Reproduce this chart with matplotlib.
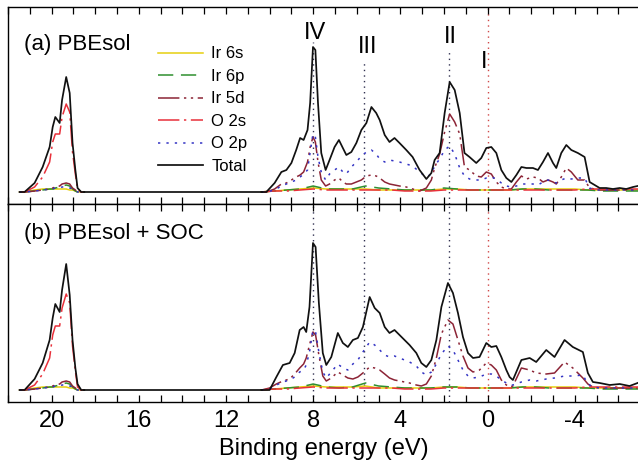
import matplotlib
matplotlib.use("Agg")
import matplotlib.pyplot as plt
import numpy as np

plt.rcParams['font.family'] = ['Liberation Sans', 'DejaVu Sans']

# --- O 2s band (around 19-21 eV), shared energy grid for both panels
e_low = [21.47, 21.24, 20.78, 20.41, 20.09, 19.95, 19.83, 19.63, 19.52, 19.33,
         19.17, 19.04, 18.91, 18.81, 18.64, 18.5]
tot_low_a = [0, 0, 9, 25, 45, 65, 75, 69, 92, 115, 99, 49, 22, 4, 0, 0]
o2s_low_a = [0, 0, 5, 15, 30, 50, 58, 58, 75, 88, 80, 40, 18, 3, 0, 0]
tot_low_b = [0, 0, 11, 27, 50, 72, 86, 78, 100, 126, 95, 50, 22, 6, 0, 0]
o2s_low_b = [0, 0, 5, 16, 32, 55, 64, 64, 82, 96, 87, 44, 19, 3, 0, 0]
ir5d_low = [0, 0, 1, 2, 3, 4, 5, 6, 8, 9, 8, 4, 2, 0, 0, 0]
ir6p_low = [0, 0, 1, 2, 3, 3, 4, 5, 6, 7, 6, 3, 1, 0, 0, 0]
ir6s_low = [0, 0, 2, 3, 3, 3, 3, 3, 3, 3, 2, 2, 1, 0, 0, 0]
o2p_low = [0, 0, 1, 2, 3, 3, 4, 4, 5, 5, 4, 3, 1, 0, 0, 0]

# --- valence / conduction region, panel (a) PBEsol
e_a = [10.37, 10.15, 9.77, 9.46, 9.23, 9.00, 8.78, 8.60, 8.44, 8.26,
       8.14, 8.01, 7.90, 7.78, 7.63, 7.43, 7.25, 7.02, 6.82, 6.64,
       6.48, 6.25, 6.02, 5.79, 5.56, 5.33, 5.11, 4.95, 4.72, 4.50,
       4.27, 4.04, 3.73, 3.44, 3.12, 2.81, 2.58, 2.43, 2.20, 1.97,
       1.74, 1.51, 1.28, 1.06, 0.83, 0.52, 0.29, 0.06, -0.17, -0.40,
       -0.63, -0.86, -1.09, -1.32, -1.55, -1.78, -2.08, -2.31, -2.54, -2.77,
       -3.00, -3.15, -3.38, -3.61, -3.84, -4.14, -4.45, -4.68, -4.91, -5.14,
       -5.44, -5.75, -6.06, -6.36, -6.67, -6.88]
tot_a = [0, 0, 9, 20, 22, 29, 42, 54, 52, 62,
         89, 145, 142, 89, 39, 22, 32, 45, 52, 44,
         37, 40, 49, 62, 69, 85, 79, 72, 57, 50,
         54, 49, 42, 35, 22, 13, 19, 32, 39, 79,
         110, 102, 79, 39, 35, 29, 34, 44, 45, 39,
         22, 14, 10, 17, 25, 24, 24, 22, 30, 39,
         29, 24, 39, 47, 42, 39, 35, 10, 7, 4,
         4, 3, 4, 3, 5, 6]
ir5d_a = [0, 0, 3, 8, 9, 12, 15, 17, 20, 30,
          45, 55, 50, 30, 12, 6, 8, 12, 14, 10,
          8, 8, 10, 12, 16, 17, 16, 14, 10, 8,
          7, 6, 5, 3, 1, 4, 12, 24, 38, 60,
          78, 70, 58, 25, 22, 16, 15, 20, 18, 10,
          5, 3, 3, 10, 16, 13, 15, 14, 10, 12,
          10, 8, 15, 24, 20, 12, 12, 4, 3, 2,
          2, 2, 2, 2, 2, 2]
o2p_a = [0, 0, 2, 6, 8, 10, 12, 15, 18, 22,
         40, 58, 55, 35, 20, 12, 18, 22, 25, 20,
         18, 25, 30, 36, 40, 42, 38, 33, 30, 32,
         31, 30, 28, 26, 20, 15, 18, 26, 33, 42,
         46, 38, 24, 16, 13, 12, 12, 14, 15, 13,
         9, 6, 5, 6, 8, 8, 8, 7, 10, 12,
         10, 9, 12, 14, 13, 14, 14, 4, 2, 2,
         2, 2, 2, 2, 2, 2]

# --- valence / conduction region, panel (b) PBEsol + SOC
e_b = [10.37, 10.00, 9.69, 9.39, 9.08, 8.85, 8.62, 8.44, 8.32, 8.17,
       8.01, 7.89, 7.74, 7.56, 7.40, 7.17, 6.87, 6.64, 6.41, 6.18,
       5.95, 5.72, 5.41, 5.18, 4.95, 4.72, 4.50, 4.27, 4.04, 3.81,
       3.58, 3.27, 3.04, 2.81, 2.58, 2.35, 2.12, 1.82, 1.59, 1.36,
       1.13, 0.90, 0.67, 0.37, 0.06, -0.17, -0.40, -0.63, -0.86, -1.01,
       -1.16, -1.55, -1.93, -2.23, -2.69, -3.07, -3.53, -3.91, -4.37, -4.60,
       -4.83, -5.14, -5.60, -6.06, -6.51, -6.88]
tot_b = [0, 0, 13, 25, 27, 37, 60, 63, 58, 83,
         147, 143, 87, 37, 25, 33, 57, 47, 43, 50,
         52, 63, 93, 82, 77, 63, 57, 60, 55, 50,
         45, 37, 27, 23, 30, 50, 83, 107, 97, 77,
         53, 37, 32, 33, 47, 43, 44, 33, 20, 13,
         10, 30, 32, 28, 40, 33, 50, 43, 38, 17,
         8, 7, 5, 6, 4, 7]
ir5d_b = [0, 2, 6, 9, 11, 16, 22, 26, 32, 45,
          58, 55, 35, 14, 9, 12, 18, 15, 12, 11,
          13, 17, 23, 22, 20, 16, 12, 10, 9, 8,
          7, 5, 4, 6, 14, 32, 56, 70, 66, 50,
          34, 22, 18, 20, 27, 25, 20, 10, 5, 3,
          4, 22, 20, 17, 16, 17, 28, 22, 12, 6,
          3, 2, 2, 2, 2, 2]
o2p_b = [0, 1, 5, 8, 10, 13, 18, 20, 25, 38,
         60, 58, 38, 18, 12, 18, 26, 22, 20, 26,
         30, 38, 48, 45, 40, 35, 33, 34, 32, 30,
         28, 24, 18, 15, 18, 26, 36, 44, 40, 30,
         20, 14, 12, 13, 16, 16, 14, 10, 7, 5,
         5, 8, 10, 9, 11, 12, 14, 14, 15, 6,
         3, 2, 2, 2, 2, 2]

# --- small Ir 6s / Ir 6p / O 2s contributions in the valence region
e_small = [10.4, 9.8, 9.2, 8.6, 8.0, 7.4, 6.8, 6.2, 5.6, 5.0,
           4.4, 3.8, 3.2, 2.6, 2.0, 1.4, 0.8, 0.2, -0.4, -1.0,
           -1.6, -2.2, -2.8, -3.4, -4.0, -4.6, -5.2, -5.8, -6.4, -7.0]
ir6s_a = [0, 1, 2, 3, 4, 3, 3, 3, 3, 2, 2, 2, 2, 2, 3, 3, 2, 2, 2, 2,
          3, 3, 3, 3, 3, 2, 2, 2, 2, 2]
ir6p_a = [0, 1, 2, 3, 6, 3, 3, 3, 6, 4, 3, 2, 2, 2, 4, 3, 2, 2, 2, 2,
          3, 3, 2, 2, 2, 2, 1, 1, 1, 1]
o2s_a = [0, 1, 1, 2, 3, 2, 2, 2, 2, 2, 2, 1, 1, 1, 2, 2, 2, 2, 2, 2,
         2, 2, 2, 2, 2, 3, 3, 3, 3, 3]
ir6s_b = [0, 1, 2, 3, 4, 3, 3, 3, 4, 2, 2, 2, 2, 2, 3, 3, 2, 2, 2, 2,
          3, 3, 3, 3, 3, 2, 2, 2, 2, 2]
ir6p_b = [0, 1, 2, 3, 6, 3, 2, 3, 7, 4, 3, 2, 2, 2, 3, 3, 2, 2, 2, 2,
          3, 3, 2, 2, 2, 2, 1, 1, 1, 1]
o2s_b = [0, 1, 1, 2, 3, 2, 2, 2, 2, 2, 2, 1, 1, 1, 2, 2, 2, 2, 2, 2,
         2, 2, 2, 2, 2, 3, 3, 3, 3, 3]

peak_labels = ['IV', 'III', 'II', 'I']
peak_pos = [8.0, 5.65, 1.75, 0.0]

# styles
st = {
    'Ir 6s': dict(color='#e6cf10', lw=1.1, ls='-'),
    'Ir 6p': dict(color='#2f8f2f', lw=1.1, dashes=(10, 5)),
    'Ir 5d': dict(color='#8c2436', lw=1.1, dashes=(14, 3, 1.5, 3, 1.5, 3)),
    'O 2s': dict(color='#e8303a', lw=1.1, dashes=(14, 3, 1.5, 3)),
    'O 2p': dict(color='#3434c4', lw=1.1, dashes=(1.5, 4)),
    'Total': dict(color='#111111', lw=1.25, ls='-'),
}

fig = plt.figure(figsize=(6.38, 4.71), dpi=100)
ax_a = fig.add_axes([8 / 638, 267 / 471, 632.2 / 638, 197 / 471])
ax_b = fig.add_axes([8 / 638, 69 / 471, 632.2 / 638, 198 / 471])


def draw_panel(ax, tot_lo, o2s_lo, e_v, tot_v, ir5d_v, o2p_v, ir6s_v, ir6p_v, o2s_v):
    # low band
    ax.plot(e_low, ir6s_low, **st['Ir 6s'])
    ax.plot(e_low, ir6p_low, **st['Ir 6p'])
    ax.plot(e_low, ir5d_low, **st['Ir 5d'])
    ax.plot(e_low, o2s_lo, **st['O 2s'])
    ax.plot(e_low, o2p_low, **st['O 2p'])
    ax.plot(e_low, tot_lo, **st['Total'], zorder=5)
    # valence
    ax.plot(e_small, ir6s_v, **st['Ir 6s'], label='Ir 6s')
    ax.plot(e_small, ir6p_v, **st['Ir 6p'], label='Ir 6p')
    ax.plot(e_v, ir5d_v, **st['Ir 5d'], label='Ir 5d')
    ax.plot(e_small, o2s_v, **st['O 2s'], label='O 2s')
    ax.plot(e_v, o2p_v, **st['O 2p'], label='O 2p')
    ax.plot(e_v, tot_v, **st['Total'], label='Total', zorder=5)
    # baseline joining the two bands
    ax.plot([18.5, 10.37], [0, 0], **st['Total'], zorder=5)

    ax.set_xlim(22.0, -7.0)
    ax.set_xticks([20, 16, 12, 8, 4, 0, -4])
    ax.set_xticks(np.arange(-7, 23, 1), minor=True)
    ax.set_yticks([])
    ax.tick_params(axis='x', which='both', direction='in', top=True, bottom=True,
                   width=0.9, labelsize=17, pad=6)
    ax.tick_params(axis='x', which='major', length=5)
    ax.tick_params(axis='x', which='minor', length=5)
    for s in ax.spines.values():
        s.set_linewidth(1.0)


draw_panel(ax_a, tot_low_a, o2s_low_a, e_a, tot_a, ir5d_a, o2p_a, ir6s_a, ir6p_a, o2s_a)
draw_panel(ax_b, tot_low_b, o2s_low_b, e_b, tot_b, ir5d_b, o2p_b, ir6s_b, ir6p_b, o2s_b)

ax_a.set_ylim(-12, 185)
ax_b.set_ylim(-12, 186)
ax_a.tick_params(axis='x', labelbottom=False)
ax_b.set_xticklabels(['20', '16', '12', '8', '4', '0', '-4'])
ax_b.set_xlabel('Binding energy (eV)', fontsize=17, labelpad=4)

# peak markers
tops_a = [150, 129, 142, 185]
for lab, p, top in zip(peak_labels, peak_pos, tops_a):
    c = '#d04848' if lab == 'I' else '#303050'
    ax_a.plot([p, p], [-12, top], color=c, lw=1.0, dashes=(1, 3), zorder=1)
    ax_b.plot([p, p], [-12, 186], color=c, lw=1.0, dashes=(1, 3), zorder=1)

ax_a.text(7.93, 159, 'IV', fontsize=17, ha='center', va='center')
ax_a.text(5.5, 145, 'III', fontsize=17, ha='center', va='center')
ax_a.text(1.7, 155, 'II', fontsize=17, ha='center', va='center')
ax_a.text(0.18, 130, 'I', fontsize=17, ha='center', va='center')

ax_a.text(0.025, 0.81, '(a) PBEsol', transform=ax_a.transAxes, fontsize=16,
          ha='left', va='center')
ax_b.text(0.025, 0.85, '(b) PBEsol + SOC', transform=ax_b.transAxes, fontsize=16,
          ha='left', va='center')

ax_a.legend(loc='upper left', bbox_to_anchor=(0.237, 0.80), frameon=False,
            fontsize=12, handlelength=2.7, handletextpad=0.5, labelspacing=0.45,
            borderaxespad=0, borderpad=0)

fig.savefig('out.png', dpi=100)
